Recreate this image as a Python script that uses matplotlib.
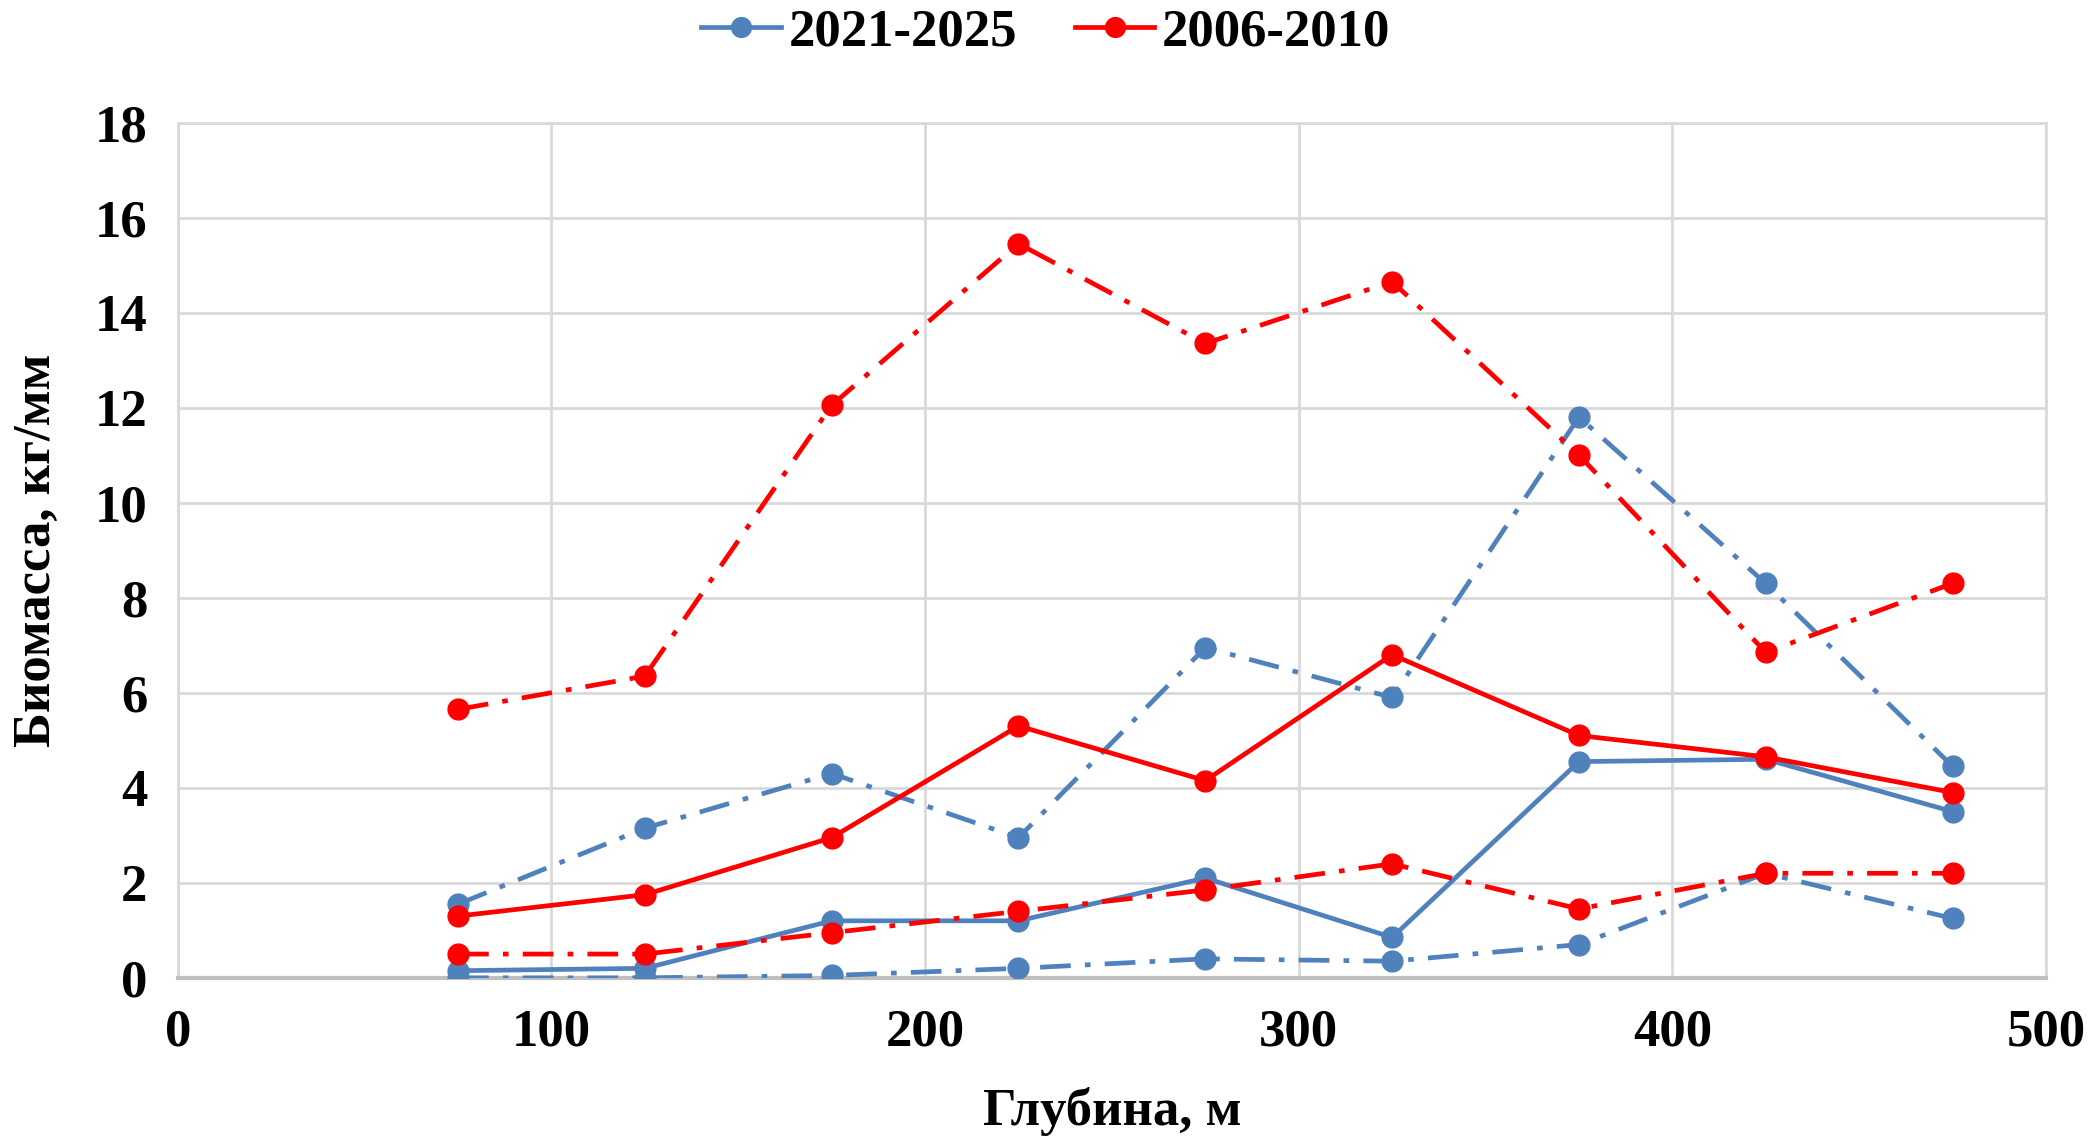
import matplotlib.pyplot as plt
import numpy as np

depth = [75, 125, 175, 225, 275, 325, 375, 425, 475]

# 2021-2025
blue_mean = [0.15, 0.2, 1.2, 1.2, 2.1, 0.85, 4.55, 4.6, 3.5]
blue_upper = [1.55, 3.15, 4.3, 2.95, 6.95, 5.9, 11.8, 8.3, 4.45]
blue_lower = [0.0, 0.0, 0.05, 0.2, 0.4, 0.35, 0.7, 2.2, 1.25]

# 2006-2010
red_mean = [1.3, 1.75, 2.95, 5.3, 4.15, 6.8, 5.1, 4.65, 3.9]
red_upper = [5.65, 6.35, 12.05, 15.45, 13.35, 14.65, 11.0, 6.85, 8.3]
red_lower = [0.5, 0.5, 0.95, 1.4, 1.85, 2.4, 1.45, 2.2, 2.2]

blue = '#4f81bd'
red = '#ff0000'

plt.rcParams['font.family'] = ['Liberation Serif', 'DejaVu Serif']
plt.rcParams['font.weight'] = 'bold'

fig = plt.figure(figsize=(20.92, 11.45), dpi=100)
ax = fig.add_axes([0.085, 0.146, 0.893, 0.747])

lw = 3.4
ms = 15
dd = (6.5, 3, 1.2, 3)

l1, = ax.plot(depth, blue_mean, color=blue, lw=lw, marker='o', ms=ms, label='2021-2025', zorder=3)
ax.plot(depth, blue_upper, color=blue, lw=lw, marker='o', ms=ms, dashes=dd, zorder=3)
ax.plot(depth, blue_lower, color=blue, lw=lw, marker='o', ms=ms, dashes=dd, zorder=3)
l2, = ax.plot(depth, red_mean, color=red, lw=lw, marker='o', ms=ms, label='2006-2010', zorder=3)
ax.plot(depth, red_upper, color=red, lw=lw, marker='o', ms=ms, dashes=dd, zorder=3)
ax.plot(depth, red_lower, color=red, lw=lw, marker='o', ms=ms, dashes=dd, zorder=3)

ax.set_xlim(0, 500)
ax.set_ylim(0, 18)
ax.set_xticks(np.arange(0, 501, 100))
ax.set_yticks(np.arange(0, 19, 2))
ax.grid(True, color='#d9d9d9', lw=2)
for s in ax.spines.values():
    s.set_color('#d9d9d9')
    s.set_linewidth(2)
ax.spines['bottom'].set_color('#bfbfbf')
ax.spines['bottom'].set_linewidth(3)
ax.tick_params(length=0, labelsize=38, pad=22)
for t in ax.get_xticklabels() + ax.get_yticklabels():
    t.set_fontweight('bold')

ax.set_xlabel('Глубина, м', fontsize=38, fontweight='bold', labelpad=22)
ax.set_ylabel('Биомасса, кг/мм', fontsize=38, fontweight='bold', labelpad=24)

fig.legend(handles=[l1, l2], loc='center', bbox_to_anchor=(0.5, 0.972), ncol=2,
           frameon=False, prop={'size': 38, 'weight': 'bold'}, handlelength=1.5,
           handletextpad=0.15, columnspacing=1.1, markerscale=0.95)

fig.savefig('out.png', dpi=100)
